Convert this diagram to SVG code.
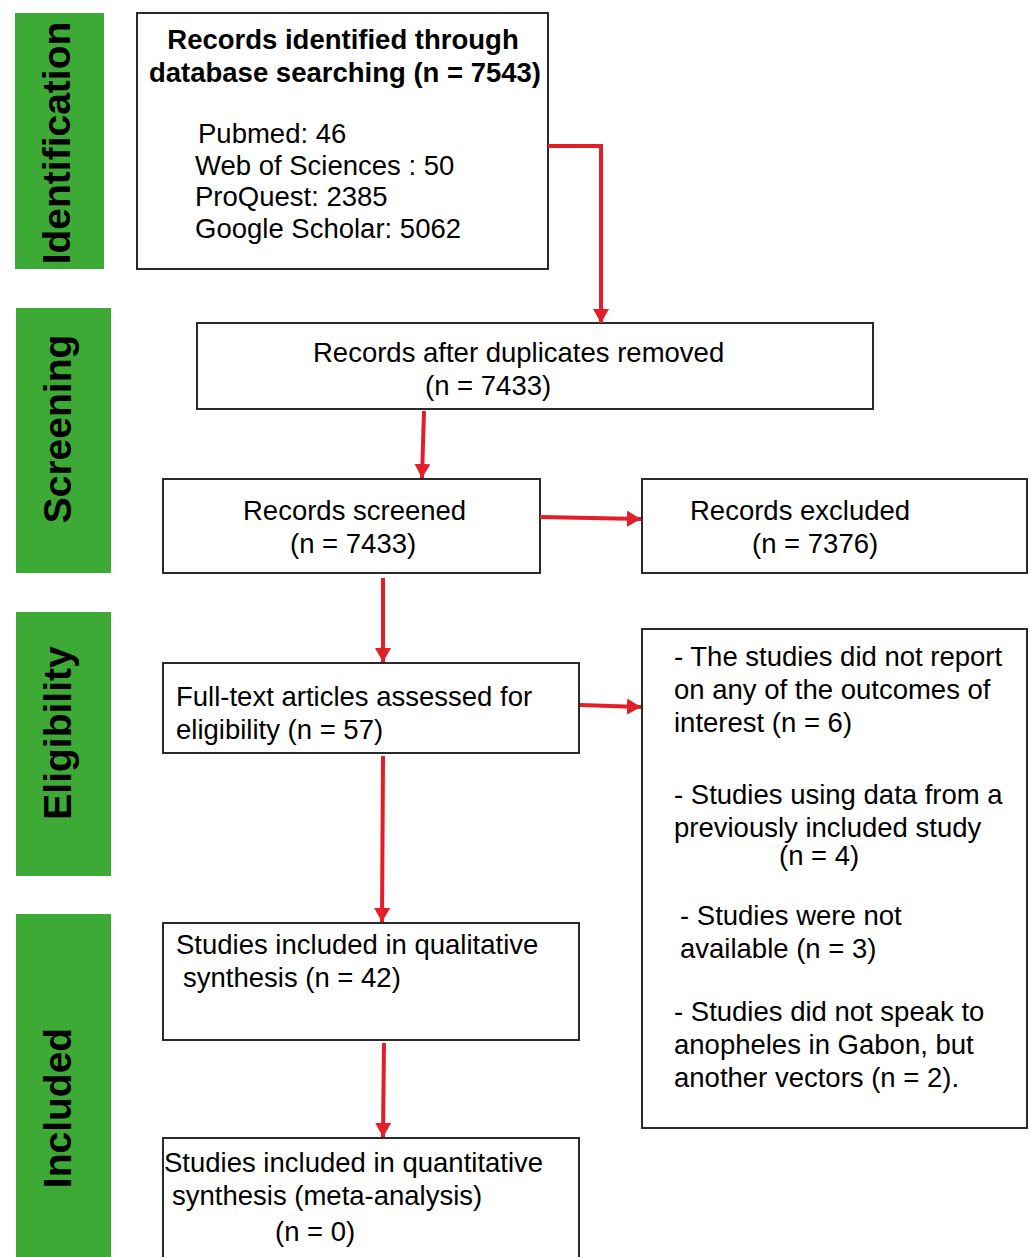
<svg xmlns="http://www.w3.org/2000/svg" width="1030" height="1257" viewBox="0 0 1030 1257">
<style>
.bar{fill:#3daa35}
.side{font-family:"Liberation Sans",Arial,sans-serif;font-size:39px;font-weight:bold;fill:#000;text-anchor:middle}
.box{fill:#fff;stroke:#2a2a2a;stroke-width:2}
.t{font-family:"Liberation Sans",Arial,sans-serif;font-size:27.5px;fill:#000}
.b{font-weight:bold}
.c{text-anchor:middle}
.conn{fill:none;stroke:#e31e26;stroke-width:4}
</style>
<defs>
<marker id="ah" markerUnits="userSpaceOnUse" markerWidth="16" markerHeight="16" refX="14" refY="8" orient="auto">
<path d="M0,0 L14,8 L0,16 Z" fill="#e31e26"/>
</marker>
</defs>
<rect width="1030" height="1257" fill="#fff"/>

<g id="stage-identification">
<rect class="bar" x="15" y="13" width="89" height="256"/>
<text class="side" transform="translate(70,143) rotate(-90)">Identification</text>
</g>
<g id="stage-screening">
<rect class="bar" x="16" y="308" width="95" height="265"/>
<text class="side" transform="translate(71,429) rotate(-90)">Screening</text>
</g>
<g id="stage-eligibility">
<rect class="bar" x="16" y="612" width="95" height="264"/>
<text class="side" transform="translate(71,733) rotate(-90)">Eligibility</text>
</g>
<g id="stage-included">
<rect class="bar" x="16" y="914" width="95" height="350"/>
<text class="side" transform="translate(71,1108) rotate(-90)">Included</text>
</g>

<g id="node-identified">
<rect class="box" x="137" y="13" width="411" height="256"/>
<text class="t b c" x="343" y="49">Records identified through</text>
<text class="t b c" x="345" y="82">database searching (n = 7543)</text>
<text class="t" x="198" y="143">Pubmed: 46</text>
<text class="t" x="195" y="175">Web of Sciences : 50</text>
<text class="t" x="195" y="206">ProQuest: 2385</text>
<text class="t" x="195" y="238">Google Scholar: 5062</text>
</g>
<g id="node-duplicates">
<rect class="box" x="197" y="323" width="676" height="86"/>
<text class="t" x="313" y="362">Records after duplicates removed</text>
<text class="t" x="425" y="395">(n = 7433)</text>
</g>
<g id="node-screened">
<rect class="box" x="163" y="479" width="377" height="94"/>
<text class="t" x="243" y="520">Records screened</text>
<text class="t" x="290" y="553">(n = 7433)</text>
</g>
<g id="node-excluded">
<rect class="box" x="642" y="479" width="385" height="94"/>
<text class="t" x="690" y="520">Records excluded</text>
<text class="t" x="752" y="553">(n = 7376)</text>
</g>
<g id="node-fulltext">
<rect class="box" x="163" y="663" width="416" height="90"/>
<text class="t" x="176" y="706">Full-text articles assessed for</text>
<text class="t" x="176" y="739">eligibility (n = 57)</text>
</g>
<g id="node-fulltext-excluded">
<rect class="box" x="642" y="629" width="385" height="499"/>
<text class="t" x="674" y="666">- The studies did not report</text>
<text class="t" x="674" y="699">on any of the outcomes of</text>
<text class="t" x="674" y="732">interest (n = 6)</text>
<text class="t" x="674" y="804">- Studies using data from a</text>
<text class="t" x="674" y="837">previously included study</text>
<text class="t" x="779" y="865">(n = 4)</text>
<text class="t" x="680" y="925">- Studies were not</text>
<text class="t" x="680" y="958">available (n = 3)</text>
<text class="t" x="674" y="1021">- Studies did not speak to</text>
<text class="t" x="674" y="1054">anopheles in Gabon, but</text>
<text class="t" x="674" y="1087">another vectors (n = 2).</text>
</g>
<g id="node-qualitative">
<rect class="box" x="163" y="923" width="416" height="117"/>
<text class="t" x="176" y="954">Studies included in qualitative</text>
<text class="t" x="183" y="987">synthesis (n = 42)</text>
</g>
<g id="node-quantitative">
<rect class="box" x="163" y="1138" width="416" height="140"/>
<text class="t" x="164" y="1172">Studies included in quantitative</text>
<text class="t" x="172" y="1205">synthesis (meta-analysis)</text>
<text class="t" x="275" y="1241">(n = 0)</text>
</g>

<g id="connectors">
<polyline class="conn" points="548,146 601,146 601,323" marker-end="url(#ah)"/>
<line class="conn" x1="424" y1="411" x2="422" y2="478" marker-end="url(#ah)"/>
<line class="conn" x1="540" y1="517" x2="641" y2="519" marker-end="url(#ah)"/>
<line class="conn" x1="383" y1="578" x2="383" y2="662" marker-end="url(#ah)"/>
<line class="conn" x1="580" y1="705" x2="641" y2="707" marker-end="url(#ah)"/>
<line class="conn" x1="383" y1="756" x2="382" y2="922" marker-end="url(#ah)"/>
<line class="conn" x1="384" y1="1043" x2="383" y2="1137" marker-end="url(#ah)"/>
</g>
</svg>
